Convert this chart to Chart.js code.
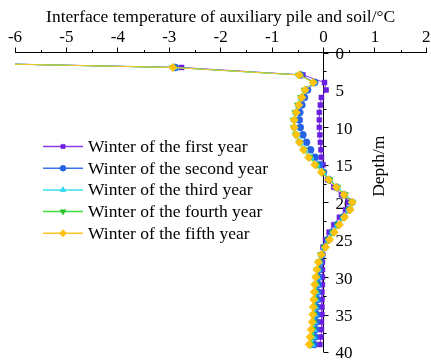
<!DOCTYPE html>
<html>
<head>
<meta charset="utf-8">
<script src="https://cdn.jsdelivr.net/npm/chart.js@4.4.1/dist/chart.umd.min.js"></script>
<style>
  html, body { margin: 0; padding: 0; background: #fff; }
  #wrap { width: 431px; height: 360px; }
</style>
</head>
<body>
<div id="wrap"><canvas id="myChart"></canvas></div>
<script>
// depth of each measuring point (m)
const depths = [1, 2, 3, 4, 5, 6, 7, 8, 9, 10, 11, 12, 13, 14, 15, 16, 17, 18, 19, 20,
  21, 22, 23, 24, 25, 26, 27, 28, 29, 30, 31, 32, 33, 34, 35, 36, 37, 38, 39];

// interface temperature (°C) per winter
const firstYear = [-10, -2.76, -0.4, 0.02, 0.05, -0.04, -0.06, -0.08, -0.08, -0.08, -0.07, -0.06, -0.05, -0.04, -0.01,
  0.0, 0.08, 0.2, 0.35, 0.48, 0.43, 0.31, 0.2, 0.11, 0.04, -0.01, -0.02, -0.02, -0.02, -0.02,
  -0.02, -0.03, -0.03, -0.03, -0.03, -0.04, -0.04, -0.05, -0.07];
const secondYear = [-10, -2.88, -0.44, -0.17, -0.31, -0.37, -0.42, -0.46, -0.47, -0.45, -0.4, -0.33, -0.25, -0.16, -0.07,
  0.0, 0.11, 0.25, 0.4, 0.55, 0.49, 0.38, 0.27, 0.17, 0.09, 0.02, -0.03, -0.06, -0.08, -0.09,
  -0.1, -0.11, -0.12, -0.13, -0.13, -0.14, -0.15, -0.16, -0.18];
const thirdYear = [-10, -2.92, -0.47, -0.19, -0.36, -0.43, -0.49, -0.54, -0.57, -0.56, -0.52, -0.45, -0.36, -0.25, -0.13,
  -0.01, 0.12, 0.27, 0.42, 0.56, 0.5, 0.39, 0.28, 0.18, 0.1, 0.02, -0.04, -0.08, -0.11, -0.12,
  -0.13, -0.14, -0.15, -0.16, -0.17, -0.18, -0.19, -0.2, -0.22];
const fourthYear = [-10, -2.93, -0.48, -0.2, -0.37, -0.44, -0.5, -0.55, -0.58, -0.58, -0.54, -0.47, -0.38, -0.27, -0.14,
  -0.02, 0.12, 0.27, 0.42, 0.56, 0.51, 0.4, 0.29, 0.19, 0.1, 0.02, -0.05, -0.09, -0.12, -0.14,
  -0.15, -0.16, -0.17, -0.18, -0.19, -0.2, -0.21, -0.23, -0.25];
const fifthYear = [-10, -2.93, -0.47, -0.2, -0.36, -0.42, -0.48, -0.53, -0.57, -0.57, -0.53, -0.47, -0.39, -0.29, -0.17,
  -0.04, 0.1, 0.25, 0.4, 0.56, 0.52, 0.41, 0.31, 0.21, 0.12, 0.04, -0.04, -0.1, -0.13, -0.15,
  -0.17, -0.18, -0.19, -0.2, -0.21, -0.22, -0.24, -0.26, -0.28];

const seriesNames = [
  "Winter of the first year",
  "Winter of the second year",
  "Winter of the third year",
  "Winter of the fourth year",
  "Winter of the fifth year",
];
const depthTicks = [0, 5, 10, 15, 20, 25, 30, 35, 40];

const fontFamily = '"Liberation Serif", "Times New Roman", serif';

const styles = [
  { line: "#8a3cf0", point: "#6a1fe0", pointStyle: "rect", radius: 3.5, rotation: 0 },
  { line: "#3a74e8", point: "#2463e6", pointStyle: "circle", radius: 3.5, rotation: 0 },
  { line: "#38e0f0", point: "#30d8f0", pointStyle: "triangle", radius: 4, rotation: 0 },
  { line: "#3ce03c", point: "#22c022", pointStyle: "triangle", radius: 4, rotation: 180 },
  { line: "#ffc425", point: "#ffc20e", pointStyle: "rectRot", radius: 4.2, rotation: 0 },
];

const series = [firstYear, secondYear, thirdYear, fourthYear, fifthYear];

const datasets = series.map((values, i) => ({
  label: seriesNames[i],
  data: values.map((t, k) => ({ x: t, y: depths[k] })),
  showLine: true,
  borderColor: styles[i].line,
  borderWidth: 1,
  backgroundColor: styles[i].point,
  pointBackgroundColor: styles[i].point,
  pointBorderColor: styles[i].point,
  pointBorderWidth: 0.5,
  pointStyle: styles[i].pointStyle,
  pointRotation: styles[i].rotation,
  pointRadius: styles[i].radius,
  order: 5 - i,
}));

// depth axis sits on x = 0, with labels on its right side
const depthAxis = {
  id: "depthAxis",
  beforeDatasetsDraw(chart) {
    const { ctx, chartArea, scales: { x, y } } = chart;
    const x0 = Math.round(x.getPixelForValue(0)) + 0.5;
    ctx.save();
    ctx.strokeStyle = "#000";
    ctx.lineWidth = 1;
    ctx.beginPath();
    ctx.moveTo(x0, chartArea.top);
    ctx.lineTo(x0, chartArea.bottom);
    depthTicks.forEach((v) => {
      const py = Math.round(y.getPixelForValue(v)) + 0.5;
      ctx.moveTo(x0, py);
      ctx.lineTo(x0 + 5, py);
      if (v < 40) {
        const pm = Math.round(y.getPixelForValue(v + 2.5)) + 0.5;
        ctx.moveTo(x0, pm);
        ctx.lineTo(x0 + 3, pm);
      }
    });
    // minor ticks of the temperature axis
    for (let v = -5.5; v < 2; v += 1) {
      const px = Math.round(x.getPixelForValue(v)) + 0.5;
      ctx.moveTo(px, chartArea.top);
      ctx.lineTo(px, chartArea.top - 2.5);
    }
    ctx.stroke();

    ctx.fillStyle = "#000";
    ctx.font = "17px " + fontFamily;
    ctx.textAlign = "left";
    ctx.textBaseline = "middle";
    depthTicks.forEach((v) => {
      ctx.fillText(String(v), x0 + 12, y.getPixelForValue(v) + 2);
    });

    ctx.translate(x0 + 56, (chartArea.top + chartArea.bottom) / 2 - 36);
    ctx.rotate(-Math.PI / 2);
    ctx.textAlign = "center";
    ctx.font = "17.5px " + fontFamily;
    ctx.fillText("Depth/m", 0, 0);
    ctx.restore();
  },
  afterDraw(chart) {
    const { ctx } = chart;
    ctx.save();
    chart.data.datasets.forEach((ds, i) => {
      const cy = 146.5 + i * 21.7;
      ctx.strokeStyle = styles[i].line;
      ctx.lineWidth = 1.5;
      ctx.beginPath();
      ctx.moveTo(43, cy);
      ctx.lineTo(83, cy);
      ctx.stroke();
      ctx.fillStyle = styles[i].point;
      ctx.strokeStyle = styles[i].point;
      ctx.lineWidth = 0.5;
      Chart.helpers.drawPoint(ctx, {
        pointStyle: styles[i].pointStyle,
        rotation: styles[i].rotation,
        radius: styles[i].radius - 0.5,
        borderWidth: 0.5,
      }, 63, cy);
      ctx.fillStyle = "#000";
      ctx.font = "17.5px " + fontFamily;
      ctx.textAlign = "left";
      ctx.textBaseline = "middle";
      ctx.fillText(ds.label, 88, cy + 1);
    });
    ctx.restore();
  },
};

new Chart(document.getElementById("myChart"), {
  type: "scatter",
  data: { datasets: datasets },
  plugins: [depthAxis],
  options: {
    responsive: true,
    maintainAspectRatio: false,
    animation: false,
    layout: { padding: { left: 15, right: 3, top: 7, bottom: 8 } },
    plugins: {
      legend: { display: false },
      tooltip: { enabled: false },
    },
    scales: {
      x: {
        type: "linear",
        position: "top",
        min: -6,
        max: 2,
        afterFit: (scale) => {
          scale.paddingLeft = 0;
          scale.paddingRight = 0;
        },
        ticks: {
          stepSize: 1,
          autoSkip: false,
          color: "#000",
          padding: 1.5,
          font: { family: fontFamily, size: 17, lineHeight: 1 },
        },
        grid: {
          drawOnChartArea: false,
          drawTicks: true,
          tickLength: 5,
          color: "#000",
        },
        border: { display: true, color: "#000", width: 1 },
        title: {
          display: true,
          text: "Interface temperature of auxiliary pile and soil/°C",
          color: "#000",
          padding: { top: 2, bottom: 1 },
          font: { family: fontFamily, size: 17.5, lineHeight: 1 },
        },
      },
      y: {
        type: "linear",
        reverse: true,
        min: 0,
        max: 40,
        display: false,
      },
    },
  },
});
</script>
</body>
</html>
